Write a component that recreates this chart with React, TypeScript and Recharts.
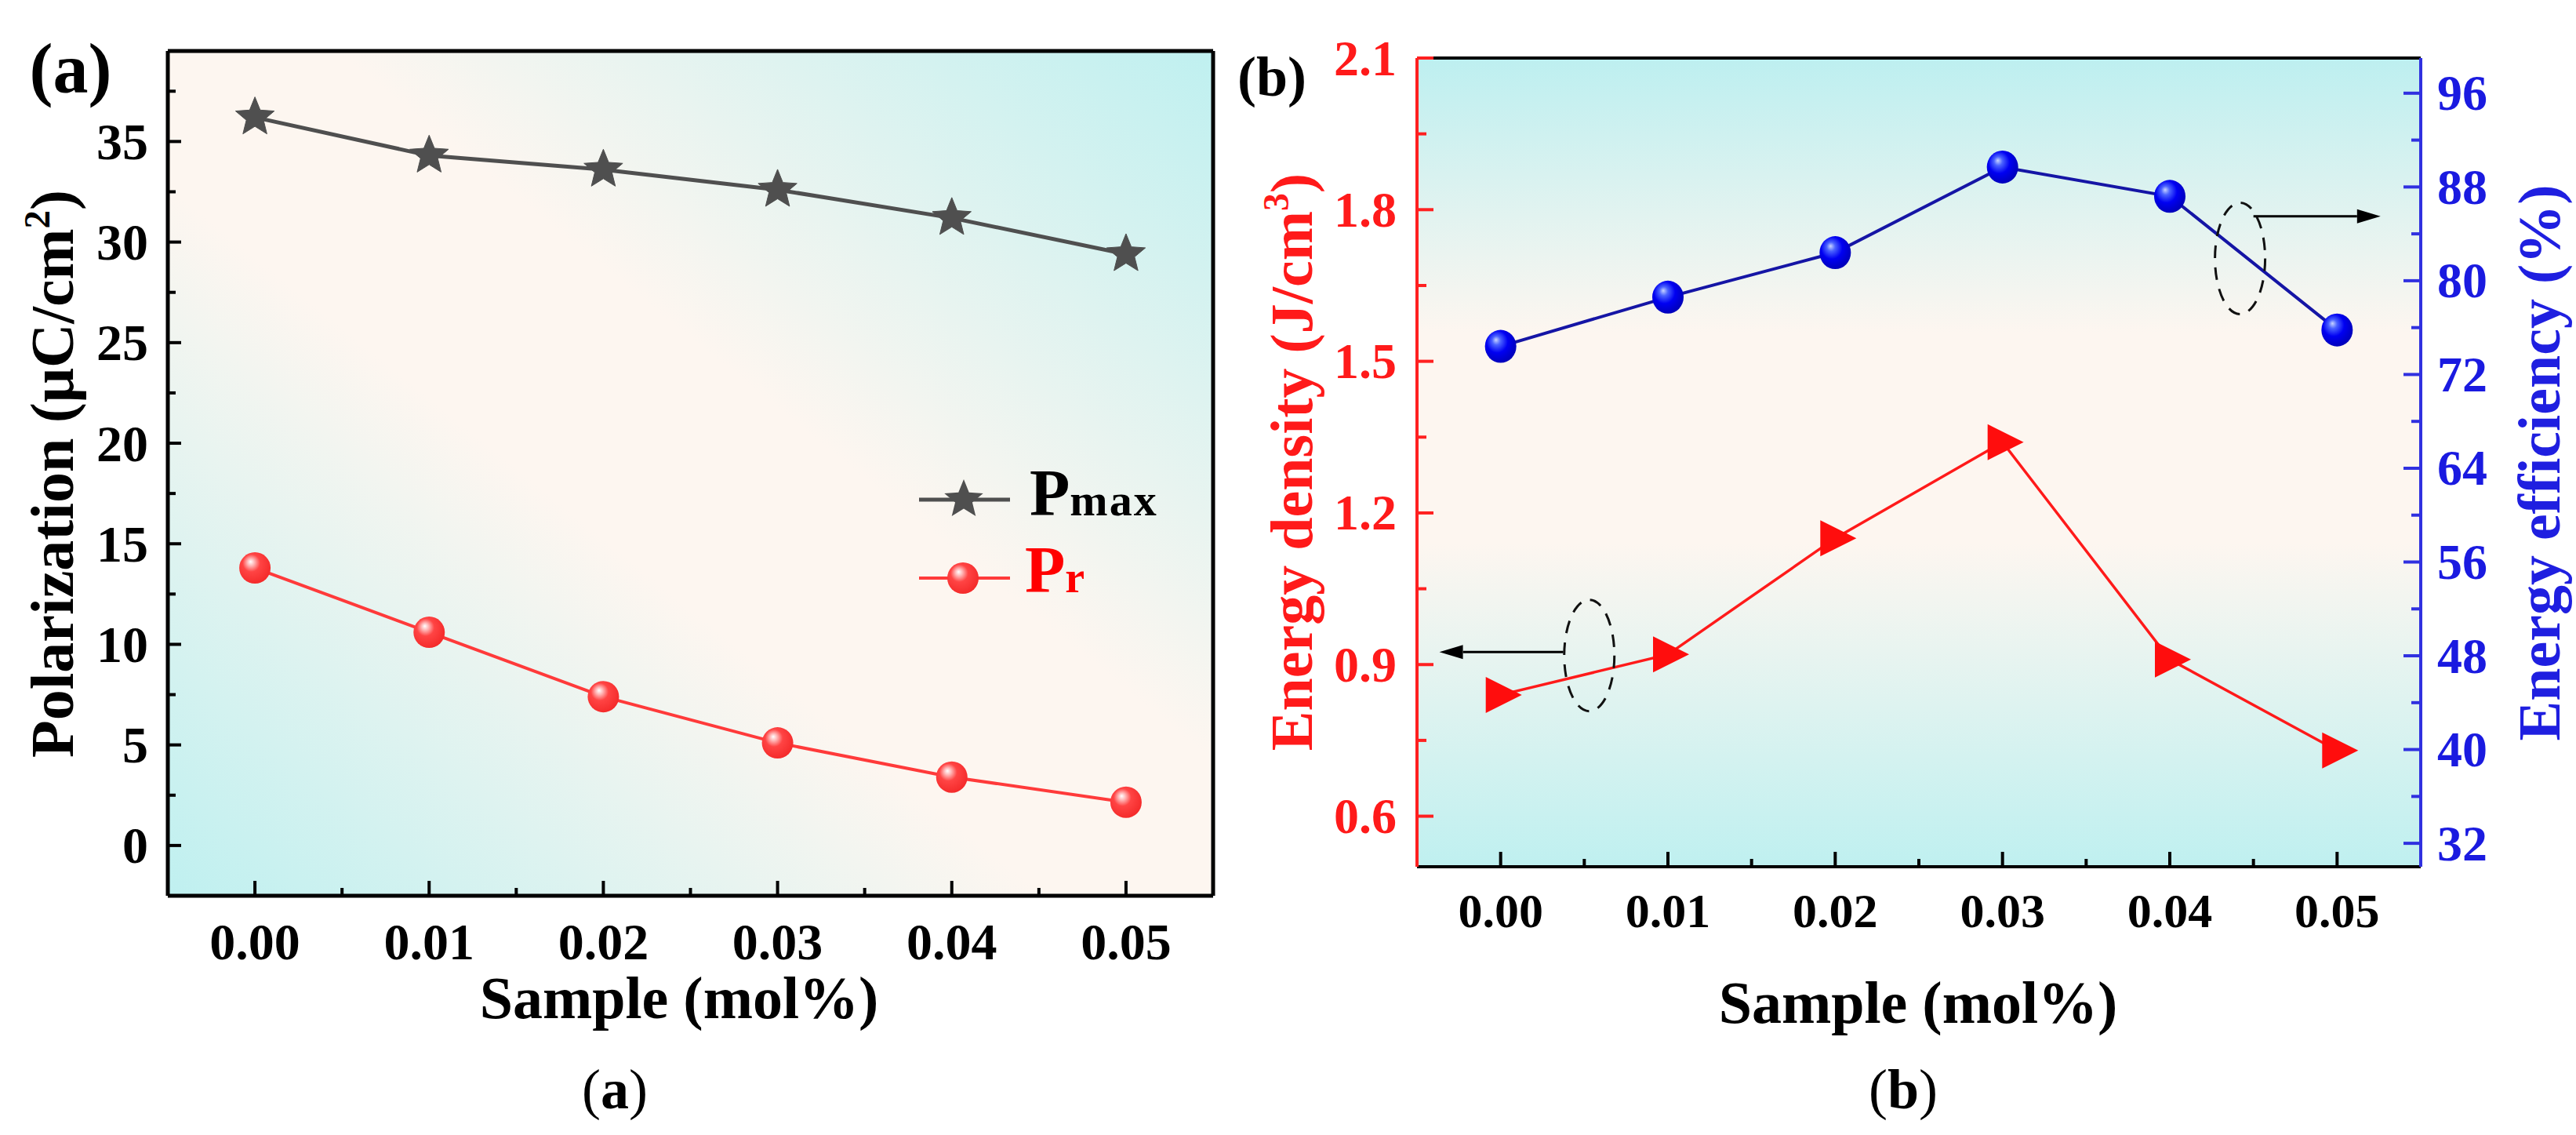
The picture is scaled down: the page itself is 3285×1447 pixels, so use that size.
import React from 'react';
import {
  LineChart,
  Line,
  XAxis,
  YAxis,
  CartesianGrid,
  ReferenceLine,
  ReferenceDot,
  Legend,
} from 'recharts';

// values
const SAMPLE = [0, 0.01, 0.02, 0.03, 0.04, 0.05];
const P_MAX = [36.2, 34.3, 33.6, 32.6, 31.2, 29.4];
const P_R = [13.8, 10.6, 7.4, 5.1, 3.4, 2.15];
const ENERGY_DENSITY = [0.84, 0.92, 1.15, 1.34, 0.91, 0.73];
const EFFICIENCY = [74.4, 78.6, 82.4, 89.7, 87.2, 75.8];

// ticks
const X_MAJOR = [0, 0.01, 0.02, 0.03, 0.04, 0.05];
const X_MINOR = [0.005, 0.015, 0.025, 0.035, 0.045];
const POL_MAJOR = [0, 5, 10, 15, 20, 25, 30, 35];
const POL_MINOR = [2.5, 7.5, 12.5, 17.5, 22.5, 27.5, 32.5, 37.5];
const ED_MAJOR = [0.6, 0.9, 1.2, 1.5, 1.8, 2.1];
const ED_MINOR = [0.75, 1.05, 1.35, 1.65, 1.95];
const EFF_MAJOR = [32, 40, 48, 56, 64, 72, 80, 88, 96];
const EFF_MINOR = [36, 44, 52, 60, 68, 76, 84, 92];

const polData = SAMPLE.map((x, i) => ({ x, pmax: P_MAX[i], pr: P_R[i] }));
const energyData = SAMPLE.map((x, i) => ({ x, ed: ENERGY_DENSITY[i], eff: EFFICIENCY[i] }));

const FONT = '"Liberation Serif", "Times New Roman", serif';

type TickOpts = {
  side: 'bottom' | 'left' | 'right';
  major: number[];
  color: string;
  lineColor: string;
  fontSize: number;
  gap: number;
  len: number;
  minorLen: number;
  fmt: (v: number) => string;
};

function makeTick(o: TickOpts) {
  return (props: any) => {
    const { x, y, payload, index } = props;
    const v = payload.value;
    const isMajor = o.major.includes(v);
    const L = isMajor ? o.len : o.minorLen;
    let line;
    let label = null;
    if (o.side === 'bottom') {
      line = <line x1={x} x2={x} y1={y} y2={y - L} stroke={o.lineColor} strokeWidth={4} />;
      if (isMajor)
        label = (
          <text x={x} y={y + o.gap} textAnchor="middle" dominantBaseline="central"
            fontFamily={FONT} fontWeight="bold" fontSize={o.fontSize} fill={o.color}>
            {o.fmt(v)}
          </text>
        );
    } else if (o.side === 'left') {
      line = <line x1={x} x2={x + L} y1={y} y2={y} stroke={o.lineColor} strokeWidth={4} />;
      if (isMajor)
        label = (
          <text x={x - o.gap} y={y} textAnchor="end" dominantBaseline="central"
            fontFamily={FONT} fontWeight="bold" fontSize={o.fontSize} fill={o.color}>
            {o.fmt(v)}
          </text>
        );
    } else {
      line = <line x1={x} x2={x - L} y1={y} y2={y} stroke={o.lineColor} strokeWidth={4} />;
      if (isMajor)
        label = (
          <text x={x + o.gap} y={y} textAnchor="start" dominantBaseline="central"
            fontFamily={FONT} fontWeight="bold" fontSize={o.fontSize} fill={o.color}>
            {o.fmt(v)}
          </text>
        );
    }
    return (
      <g key={`t-${index}-${v}`}>
        {line}
        {label}
      </g>
    );
  };
}

function starPoints(cx: number, cy: number, R: number, r: number) {
  const pts: string[] = [];
  for (let i = 0; i < 10; i++) {
    const a = -Math.PI / 2 + (i * Math.PI) / 5;
    const rad = i % 2 === 0 ? R : r;
    pts.push(`${cx + rad * Math.cos(a)},${cy + rad * Math.sin(a)}`);
  }
  return pts.join(' ');
}

const StarDot = (p: any) => (
  <polygon key={`star-${p.index}`} points={starPoints(p.cx, p.cy, 26, 11.5)} fill="#4f4f4f" stroke="#4f4f4f" strokeWidth={1} />
);

const RedBall = (p: any) => (
  <circle key={`rb-${p.index}`} cx={p.cx} cy={p.cy} r={20} fill="url(#redBall)" />
);

const BlueBall = (p: any) => (
  <ellipse key={`bb-${p.index}`} cx={p.cx} cy={p.cy} rx={20} ry={21} fill="url(#blueBall)" />
);

const Triangle = (p: any) => (
  <polygon key={`tri-${p.index}`}
    points={`${p.cx - 19},${p.cy - 23} ${p.cx + 27},${p.cy} ${p.cx - 19},${p.cy + 23}`}
    fill="#ff0d0d" />
);

const Arrow = (p: any) => {
  const { x1, y1, x2, y2 } = p;
  const dx = x2 - x1;
  const dy = y2 - y1;
  const len = Math.hypot(dx, dy) || 1;
  const ux = dx / len;
  const uy = dy / len;
  const hl = 30;
  const hw = 9;
  const bx = x2 - ux * hl;
  const by = y2 - uy * hl;
  return (
    <g>
      <line x1={x1} y1={y1} x2={bx} y2={by} stroke="#000" strokeWidth={3} />
      <polygon points={`${x2},${y2} ${bx - uy * hw},${by + ux * hw} ${bx + uy * hw},${by - ux * hw}`} fill="#000" />
    </g>
  );
};

const DashedEllipse = (p: any) => (
  <ellipse cx={p.cx} cy={p.cy} rx={32} ry={71} fill="none" stroke="#111" strokeWidth={3} strokeDasharray="16 12" />
);

const BallGradients = () => (
  <defs>
    <radialGradient id="redBall" cx="0.42" cy="0.4" r="0.62" fx="0.36" fy="0.3">
      <stop offset="0" stopColor="#ffffff" />
      <stop offset="0.18" stopColor="#ffb8b8" />
      <stop offset="0.45" stopColor="#ff4444" />
      <stop offset="1" stopColor="#f42a2a" />
    </radialGradient>
    <radialGradient id="blueBall" cx="0.42" cy="0.4" r="0.62" fx="0.35" fy="0.3">
      <stop offset="0" stopColor="#c8d4ff" />
      <stop offset="0.22" stopColor="#4a62ff" />
      <stop offset="0.55" stopColor="#0000f2" />
      <stop offset="1" stopColor="#0000b8" />
    </radialGradient>
  </defs>
);

const PolLegend = () => (
  <svg width={420} height={200} style={{ overflow: 'visible' }}>
    <line x1={12} x2={128} y1={57} y2={57} stroke="#4f4f4f" strokeWidth={5} />
    <polygon points={starPoints(69, 57, 26, 11.5)} fill="#4f4f4f" />
    <text x={153} y={77} fontFamily={FONT} fontWeight="bold" fontSize={84} fill="#000">
      P<tspan fontSize={58} letterSpacing={2}>max</tspan>
    </text>
    <line x1={12} x2={128} y1={157} y2={157} stroke="#ff3a3a" strokeWidth={4} />
    <circle cx={68} cy={157} r={20} fill="url(#redBall)" />
    <text x={147} y={175} fontFamily={FONT} fontWeight="bold" fontSize={84} fill="#ff0000">
      P<tspan fontSize={56}>r</tspan>
    </text>
  </svg>
);

const textBase: React.CSSProperties = {
  position: 'absolute',
  fontFamily: FONT,
  fontWeight: 'bold',
  whiteSpace: 'nowrap',
  lineHeight: 1,
};

function Title(props: { x: number; y: number; size: number; color?: string; rotate?: boolean; bold?: boolean; children: React.ReactNode }) {
  return (
    <div
      style={{
        ...textBase,
        left: props.x,
        top: props.y,
        fontSize: props.size,
        color: props.color ?? '#000',
        fontWeight: props.bold === false ? 'normal' : 'bold',
        transform: `translate(-50%, -50%)${props.rotate ? ' rotate(-90deg)' : ''}`,
      }}
    >
      {props.children}
    </div>
  );
}

const sup: React.CSSProperties = { fontSize: '0.6em', verticalAlign: '0.65em' };

export default function App() {
  return (
    <div style={{ position: 'absolute', left: 0, top: 0, width: 3285, height: 1447, background: '#fff', overflow: 'hidden' }}>
      {/* panel (a) */}
      <div style={{ position: 'absolute', left: 0, top: 0 }}>
        <LineChart width={1640} height={1447} data={polData} margin={{ top: 65, right: 93, bottom: 205, left: 0 }}>
          <defs>
            <linearGradient id="bgA" x1="0" y1="1" x2="1" y2="0">
              <stop offset="0" stopColor="#bff0f0" />
              <stop offset="0.42" stopColor="#fdf6f0" />
              <stop offset="0.58" stopColor="#fdf6f0" />
              <stop offset="1" stopColor="#bff0f0" />
            </linearGradient>
          </defs>
          <BallGradients />
          <CartesianGrid fill="url(#bgA)" horizontal={false} vertical={false} stroke="none" />
          <XAxis
            type="number"
            dataKey="x"
            domain={[-0.005, 0.055]}
            ticks={[...X_MAJOR, ...X_MINOR]}
            interval={0}
            allowDataOverflow
            height={100}
            tickSize={0}
            tickMargin={0}
            tickLine={false}
            axisLine={{ stroke: '#000', strokeWidth: 5 }}
            tick={makeTick({ side: 'bottom', major: X_MAJOR, color: '#000', lineColor: '#000', fontSize: 66, gap: 58, len: 19, minorLen: 10, fmt: (v) => v.toFixed(2) })}
          />
          <YAxis
            type="number"
            domain={[-2.5, 39.5]}
            ticks={[...POL_MAJOR, ...POL_MINOR]}
            interval={0}
            allowDataOverflow
            width={214}
            tickSize={0}
            tickMargin={0}
            tickLine={false}
            axisLine={{ stroke: '#000', strokeWidth: 5 }}
            tick={makeTick({ side: 'left', major: POL_MAJOR, color: '#000', lineColor: '#000', fontSize: 66, gap: 25, len: 17, minorLen: 10, fmt: (v) => String(v) })}
          />
          <ReferenceLine y={39.5} stroke="#000" strokeWidth={5} />
          <ReferenceLine x={0.055} stroke="#000" strokeWidth={5} />
          <Line dataKey="pmax" stroke="#4f4f4f" strokeWidth={5} dot={StarDot} activeDot={false} isAnimationActive={false} />
          <Line dataKey="pr" stroke="#ff3a3a" strokeWidth={4} dot={RedBall} activeDot={false} isAnimationActive={false} />
          <Legend
            layout="vertical"
            align="center"
            verticalAlign="middle"
            content={() => <PolLegend />}
            wrapperStyle={{ left: 1160, top: 580, width: 420, height: 200 }}
          />
        </LineChart>
      </div>

      {/* panel (b) */}
      <div style={{ position: 'absolute', left: 1650, top: 0 }}>
        <LineChart width={1635} height={1447} data={energyData} margin={{ top: 74, right: 0, bottom: 242, left: 0 }}>
          <defs>
            <linearGradient id="bgB" x1="0" y1="0" x2="0" y2="1">
              <stop offset="0" stopColor="#bdeff0" />
              <stop offset="0.34" stopColor="#fdf6f0" />
              <stop offset="0.6" stopColor="#fdf6f0" />
              <stop offset="1" stopColor="#bff0f0" />
            </linearGradient>
          </defs>
          <CartesianGrid fill="url(#bgB)" horizontal={false} vertical={false} stroke="none" />
          <XAxis
            type="number"
            dataKey="x"
            domain={[-0.005, 0.055]}
            ticks={[...X_MAJOR, ...X_MINOR]}
            interval={0}
            allowDataOverflow
            height={100}
            tickSize={0}
            tickMargin={0}
            tickLine={false}
            axisLine={{ stroke: '#000', strokeWidth: 4 }}
            tick={makeTick({ side: 'bottom', major: X_MAJOR, color: '#000', lineColor: '#000', fontSize: 62, gap: 56, len: 19, minorLen: 10, fmt: (v) => v.toFixed(2) })}
          />
          <YAxis
            yAxisId="left"
            type="number"
            domain={[0.5, 2.1]}
            ticks={[...ED_MAJOR, ...ED_MINOR]}
            interval={0}
            allowDataOverflow
            width={157}
            tickSize={0}
            tickMargin={0}
            tickLine={false}
            axisLine={{ stroke: '#ff2020', strokeWidth: 4 }}
            tick={makeTick({ side: 'left', major: ED_MAJOR, color: '#ff1a1a', lineColor: '#ff2020', fontSize: 64, gap: 26, len: 21, minorLen: 12, fmt: (v) => v.toFixed(1) })}
          />
          <YAxis
            yAxisId="right"
            orientation="right"
            type="number"
            domain={[30, 99]}
            ticks={[...EFF_MAJOR, ...EFF_MINOR]}
            interval={0}
            allowDataOverflow
            width={198}
            tickSize={0}
            tickMargin={0}
            tickLine={false}
            axisLine={{ stroke: '#3030e0', strokeWidth: 4 }}
            tick={makeTick({ side: 'right', major: EFF_MAJOR, color: '#1a1ae0', lineColor: '#3030e0', fontSize: 64, gap: 21, len: 22, minorLen: 12, fmt: (v) => String(v) })}
          />
          <ReferenceLine yAxisId="left" y={2.1} stroke="#000" strokeWidth={4} />
          <ReferenceDot yAxisId="left" x={0.0053} y={0.918} shape={DashedEllipse} ifOverflow="visible" />
          <ReferenceLine
            yAxisId="left"
            segment={[{ x: 0.00375, y: 0.925 }, { x: -0.00366, y: 0.925 }]}
            shape={Arrow}
            ifOverflow="visible"
          />
          <ReferenceDot yAxisId="right" x={0.0442} y={81.9} shape={DashedEllipse} ifOverflow="visible" />
          <ReferenceLine
            yAxisId="right"
            segment={[{ x: 0.045, y: 85.5 }, { x: 0.0526, y: 85.5 }]}
            shape={Arrow}
            ifOverflow="visible"
          />
          <Line yAxisId="left" dataKey="ed" stroke="#ff1a1a" strokeWidth={3.5} dot={Triangle} activeDot={false} isAnimationActive={false} />
          <Line yAxisId="right" dataKey="eff" stroke="#1515a5" strokeWidth={4} dot={BlueBall} activeDot={false} isAnimationActive={false} />
        </LineChart>
      </div>

      {/* titles and panel labels */}
      <Title x={90} y={88} size={90}>(a)</Title>
      <Title x={65} y={604} size={78} rotate>
        Polarization (μC/cm<span style={sup}>2</span>)
      </Title>
      <Title x={866} y={1272} size={76}>Sample (mol%)</Title>
      <Title x={784} y={1389} size={72} bold={false}>
        (<b>a</b>)
      </Title>

      <Title x={1622} y={98} size={72}>(b)</Title>
      <Title x={1645} y={589} size={76} color="#ff1a1a" rotate>
        Energy density (J/cm<span style={sup}>3</span>)
      </Title>
      <Title x={3238} y={590} size={76} color="#1f1fe0" rotate>
        Energy efficiency (%)
      </Title>
      <Title x={2446} y={1278} size={76}>Sample (mol%)</Title>
      <Title x={2427} y={1389} size={72} bold={false}>
        (<b>b</b>)
      </Title>
    </div>
  );
}
